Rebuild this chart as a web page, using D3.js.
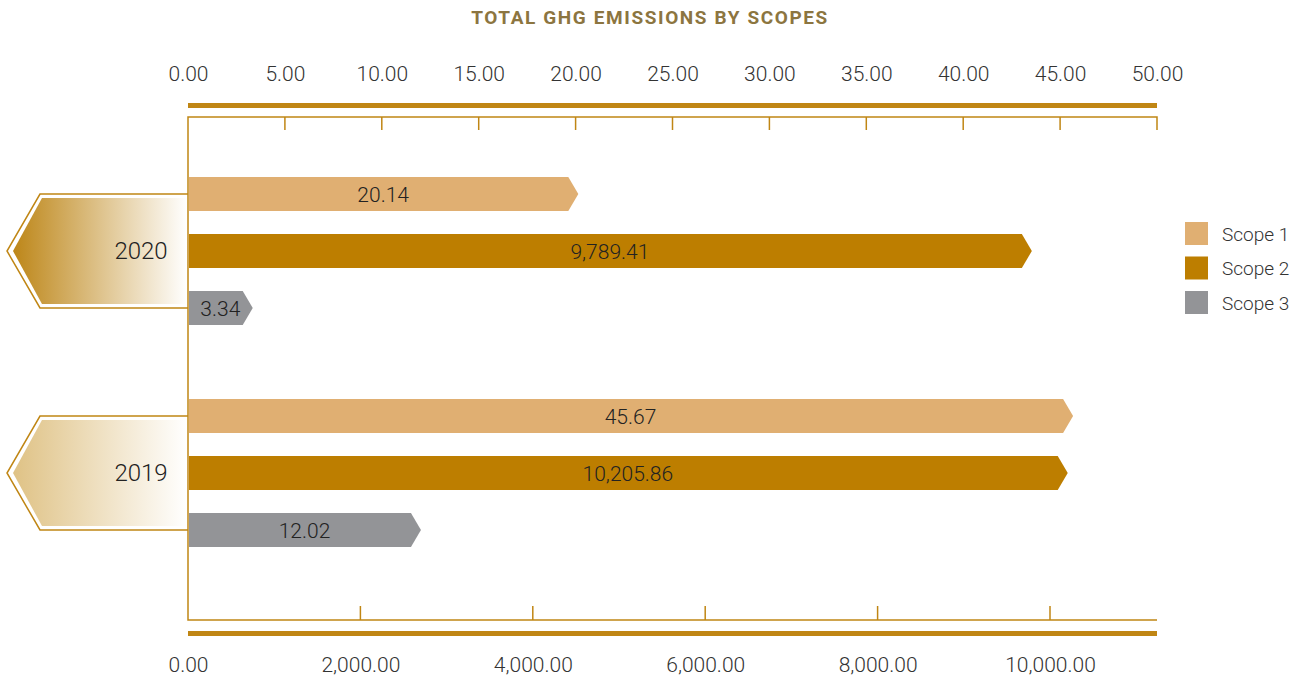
<!DOCTYPE html>
<html>
<head>
<meta charset="utf-8">
<script src="https://cdn.jsdelivr.net/npm/d3@7"></script>
<style>
  body { margin: 0; background: #fff; }
  svg { display: block; font-family: Roboto, "Noto Sans", sans-serif; }
</style>
</head>
<body>
<script>
// data
const years = ['2020', '2019']
const scopes = ['Scope 1', 'Scope 2', 'Scope 3']
const scope1 = [20.14, 45.67]
const scope2 = [9789.41, 10205.86]
const scope3 = [3.34, 12.02]
const topTicks = [0, 5, 10, 15, 20, 25, 30, 35, 40, 45, 50]
const bottomTicks = [0, 2000, 4000, 6000, 8000, 10000]

const colors = ['#e0af72', '#bd7e00', '#939497']
const gold = '#c08614'

const W = 1304, H = 682
const left = 188, right = 1157
const frameTop = 117, frameBottom = 620

const svg = d3.select('body').append('svg')
    .attr('width', W)
    .attr('height', H)

// scopes 1 and 3 use the top axis, scope 2 the bottom one
const xTop = d3.scaleLinear().domain([0, 50]).range([left, right])
const xBottom = d3.scaleLinear().domain([0, 10000]).range([left, 1050])

const yYear = d3.scaleBand().domain(years).range([177, 547]).paddingInner(1 / 3)
const ySub = d3.scaleBand().domain(scopes).range([0, yYear.bandwidth()]).paddingInner(23 / 57)

const fmt = d3.format(',.2f')

// title
svg.append('text')
    .attr('x', 650)
    .attr('y', 24)
    .attr('text-anchor', 'middle')
    .attr('font-size', 19)
    .attr('font-weight', 700)
    .attr('letter-spacing', 1.6)
    .attr('fill', '#8c7540')
    .text('TOTAL GHG EMISSIONS BY SCOPES')

// gradients for year tags
const defs = svg.append('defs')
const gradStops = [['#bd8618', '#fff'], ['#dfc285', '#fff']]
years.forEach((y, i) => {
    const g = defs.append('linearGradient')
        .attr('id', 'grad' + y)
        .attr('x1', '0%').attr('x2', '100%')
    g.append('stop').attr('offset', '0%').attr('stop-color', gradStops[i][0])
    g.append('stop').attr('offset', '100%').attr('stop-color', gradStops[i][1])
})

// axes
const topAxis = d3.axisTop(xTop)
    .tickValues(topTicks)
    .tickFormat(d3.format('.2f'))
    .tickSize(0)
    .tickPadding(0)

svg.append('g')
    .attr('transform', `translate(0,81)`)
    .call(topAxis)
    .call(g => g.select('.domain').remove())
    .selectAll('text')
    .attr('font-size', 21)
    .attr('font-weight', 300)
    .attr('fill', '#333')
    .attr('font-family', 'Roboto, sans-serif')

const bottomAxis = d3.axisBottom(xBottom)
    .tickValues(bottomTicks)
    .tickFormat(fmt)
    .tickSize(0)
    .tickPadding(0)

svg.append('g')
    .attr('transform', `translate(0,657)`)
    .call(bottomAxis)
    .call(g => g.select('.domain').remove())
    .selectAll('text')
    .attr('font-size', 21)
    .attr('font-weight', 300)
    .attr('fill', '#333')
    .attr('font-family', 'Roboto, sans-serif')

// thick rules
svg.append('rect')
    .attr('x', left).attr('y', 103)
    .attr('width', right - left).attr('height', 5)
    .attr('fill', gold)
svg.append('rect')
    .attr('x', left).attr('y', 631)
    .attr('width', right - left).attr('height', 5)
    .attr('fill', gold)

// frame
const frame = svg.append('g')
    .attr('stroke', gold)
    .attr('stroke-width', 1.5)
    .attr('fill', 'none')

frame.append('path')
    .attr('d', `M${right},130V${frameTop}H${left}V${frameBottom}H${right}`)

frame.selectAll('.ttick')
    .data(topTicks.slice(1, -1))
    .enter().append('line')
    .attr('x1', d => xTop(d)).attr('x2', d => xTop(d))
    .attr('y1', frameTop).attr('y2', 130)

frame.selectAll('.btick')
    .data(bottomTicks.slice(1))
    .enter().append('line')
    .attr('x1', d => xBottom(d)).attr('x2', d => xBottom(d))
    .attr('y1', frameBottom).attr('y2', 606)

// year tags
years.forEach(y => {
    const cy = yYear(y) + ySub(scopes[1]) + ySub.bandwidth() / 2
    const tag = svg.append('g')
    tag.append('path')
        .attr('d', `M${left},${cy - 57}H40L7,${cy}L40,${cy + 57}H${left}`)
        .attr('fill', 'none')
        .attr('stroke', gold)
        .attr('stroke-width', 1.5)
    tag.append('path')
        .attr('d', `M${left - 1},${cy - 53}H42L13,${cy}L42,${cy + 53}H${left - 1}Z`)
        .attr('fill', `url(#grad${y})`)
    tag.append('text')
        .attr('x', 141)
        .attr('y', cy)
        .attr('dy', '0.35em')
        .attr('text-anchor', 'middle')
        .attr('font-size', 24)
        .attr('font-weight', 300)
        .attr('fill', '#222')
        .text(y)
})

// bars
const rows = []
years.forEach((y, i) => {
    rows.push({ year: y, scope: scopes[0], value: scope1[i], x: xTop })
    rows.push({ year: y, scope: scopes[1], value: scope2[i], x: xBottom })
    rows.push({ year: y, scope: scopes[2], value: scope3[i], x: xTop })
})

const tip = 10
const bars = svg.selectAll('.bar')
    .data(rows)
    .enter().append('g')
    .attr('transform', d => `translate(0,${yYear(d.year) + ySub(d.scope)})`)

bars.append('path')
    .attr('d', d => {
        const h = ySub.bandwidth()
        const x1 = d.x(d.value)
        return `M${left + 1},0H${x1 - tip}L${x1},${h / 2}L${x1 - tip},${h}H${left + 1}Z`
    })
    .attr('fill', (d, i) => colors[scopes.indexOf(d.scope)])

bars.append('text')
    .attr('x', d => (left + d.x(d.value)) / 2)
    .attr('y', ySub.bandwidth() / 2)
    .attr('dy', '0.36em')
    .attr('text-anchor', 'middle')
    .attr('font-size', 21)
    .attr('font-weight', 300)
    .attr('fill', '#222')
    .text(d => fmt(d.value))

// legend
const legend = svg.selectAll('.legend')
    .data(scopes)
    .enter().append('g')
    .attr('transform', (d, i) => `translate(1185,${222 + i * 34.5})`)

legend.append('rect')
    .attr('width', 23).attr('height', 23)
    .attr('fill', (d, i) => colors[i])

legend.append('text')
    .attr('x', 37)
    .attr('y', 12)
    .attr('dy', '0.35em')
    .attr('font-size', 19)
    .attr('font-weight', 300)
    .attr('fill', '#333')
    .text(d => d)
</script>
</body>
</html>
